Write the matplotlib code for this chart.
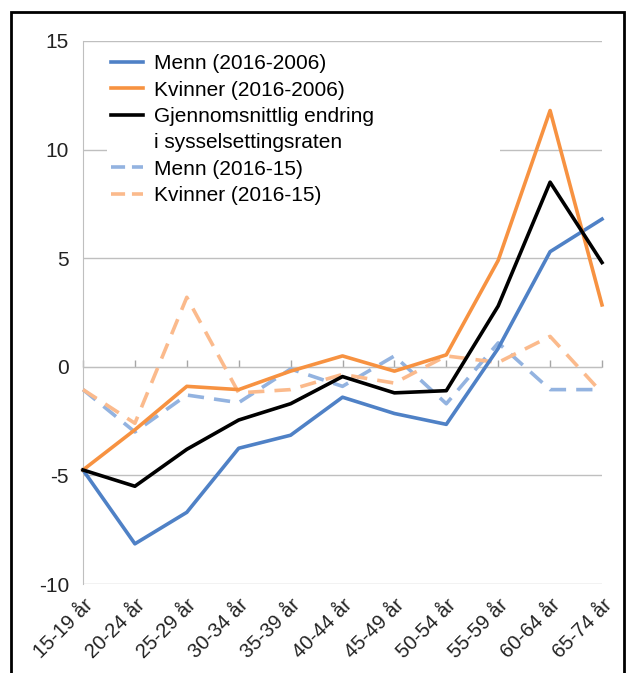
import matplotlib
matplotlib.use('Agg')
import matplotlib.pyplot as plt
from matplotlib.lines import Line2D
from matplotlib.patches import Rectangle

# values
groups = ['15-19 år', '20-24 år', '25-29 år', '30-34 år', '35-39 år', '40-44 år',
          '45-49 år', '50-54 år', '55-59 år', '60-64 år', '65-74 år']
menn_10y = [-4.75, -8.15, -6.7, -3.75, -3.15, -1.4, -2.15, -2.65, 0.85, 5.3, 6.8]
kvinner_10y = [-4.75, -2.9, -0.9, -1.05, -0.2, 0.5, -0.2, 0.55, 4.9, 11.8, 2.85]
snitt = [-4.75, -5.5, -3.8, -2.45, -1.7, -0.45, -1.2, -1.1, 2.8, 8.5, 4.8]
menn_1y = [-1.05, -3.0, -1.3, -1.65, -0.1, -0.9, 0.5, -1.7, 1.1, -1.05, -1.05]
kvinner_1y = [-1.05, -2.6, 3.2, -1.2, -1.05, -0.35, -0.75, 0.5, 0.2, 1.4, -1.2]

plt.rcParams['font.family'] = ['Liberation Sans', 'DejaVu Sans']
plt.rcParams['axes.unicode_minus'] = False

fig = plt.figure(figsize=(6.27, 6.73), dpi=100)
ax = fig.add_axes([83/627, 1 - 584/673, (602 - 83)/627, (584 - 41)/673])

x = list(range(len(groups)))
l1, = ax.plot(x, menn_10y, color='#4F81C6', lw=2.6, zorder=4, clip_on=False)
l2, = ax.plot(x, kvinner_10y, color='#F79241', lw=2.6, zorder=4, clip_on=False)
l3, = ax.plot(x, snitt, color='black', lw=2.6, zorder=5, clip_on=False)
l4, = ax.plot(x, menn_1y, color='#93B3E0', lw=2.6, dashes=(4.5, 2.8),
              zorder=3, clip_on=False)
l5, = ax.plot(x, kvinner_1y, color='#FBBA8C', lw=2.6, dashes=(4.5, 2.8),
              zorder=3, clip_on=False)

ax.set_xlim(0, len(groups) - 1)
ax.set_ylim(-10, 15)
ax.set_yticks([-10, -5, 0, 5, 10, 15])
ax.yaxis.grid(True, color='#BFBFBF', lw=1.0)
ax.set_axisbelow(True)
for s in ['top', 'right', 'bottom']:
    ax.spines[s].set_visible(False)
ax.spines['left'].set_color('#BFBFBF')
ax.tick_params(axis='y', length=0, pad=10, labelsize=15, colors='#222222')

ax.set_xticks(x)
ax.set_xticklabels(groups, rotation=45, ha='right', rotation_mode='anchor')
ax.tick_params(axis='x', length=0, pad=8, labelsize=14.5, colors='#222222')

# category tick marks along the zero line
sec = ax.secondary_xaxis(0.4)
sec.set_xticks(x)
sec.set_xticklabels([])
sec.spines['bottom'].set_color('#BFBFBF')
sec.tick_params(axis='x', direction='in', length=5, width=1, color='#A6A6A6')

# legend - the two-line label keeps its line next to the first text line
blank = Line2D([], [], color='none')
h4 = Line2D([], [], color='#93B3E0', lw=2.6, dashes=(3.9, 1.9))
h5 = Line2D([], [], color='#FBBA8C', lw=2.6, dashes=(3.9, 1.9))
handles = [l1, l2, l3, blank, h4, h5]
labels = ['Menn (2016-2006)', 'Kvinner (2016-2006)', 'Gjennomsnittlig endring',
          'i sysselsettingsraten', 'Menn (2016-15)', 'Kvinner (2016-15)']
leg = ax.legend(handles, labels, loc='upper left',
                bbox_to_anchor=(0.046, 0.983, 0.757, 0.0),
                mode='expand', fontsize=15, frameon=True, facecolor='white',
                edgecolor='none', framealpha=1, fancybox=False,
                handlelength=1.55, handletextpad=0.5, labelspacing=0.35,
                borderpad=0.2, borderaxespad=0)
leg.set_zorder(6)

fig.patches.append(Rectangle((11/627, -0.05), (624 - 11)/627, 1 - 12/673 + 0.05,
                             transform=fig.transFigure, fill=False,
                             edgecolor='black', lw=2))

fig.savefig('out.png', dpi=100)
